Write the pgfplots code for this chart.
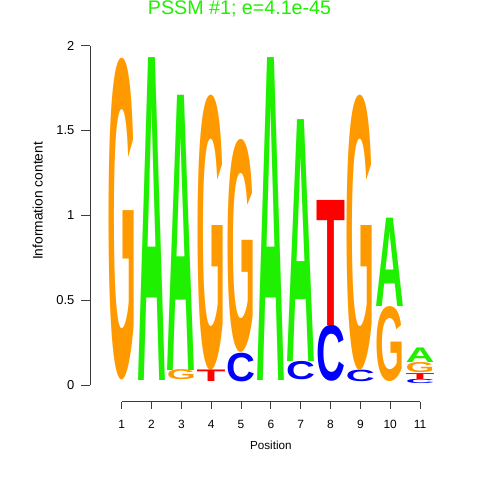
\documentclass[border=0pt]{standalone}
\usepackage{pgfplots}
\pgfplotsset{compat=1.18}
\usepackage{pgfplotstable}
\usepackage{graphicx}
\usepackage{fontspec}
\setmainfont{Liberation Sans}

\definecolor{colA}{RGB}{30,240,0}
\definecolor{colC}{RGB}{0,0,255}
\definecolor{colG}{RGB}{255,153,0}
\definecolor{colT}{RGB}{255,0,0}
\definecolor{axcol}{RGB}{60,60,60}

% stacks: x = position, y = bottom of letter, h = letter height (bits)
\pgfplotstableread{
x y h
2 0.029 1.903
3 0.088 1.622
6 0.029 1.903
7 0.137 1.4255
10 0.462 0.521
11 0.13 0.086
}\tblA
\pgfplotstableread{
x y h
5 0.02 0.169
7 0.029 0.108
8 0.02 0.33
9 0.02 0.068
11 0.01 0.025
}\tblC
\pgfplotstableread{
x y h
1 0.029 1.897
3 0.029 0.059
4 0.088 1.622
5 0.189 1.256
9 0.088 1.622
10 0.02 0.442
11 0.07 0.06
}\tblG
\pgfplotstableread{
x y h
4 0.02 0.068
8 0.35 0.737
11 0.035 0.035
}\tblT

\newcommand{\logoletter}[1]{\resizebox*{0.7234cm}{\hcm cm}{\bfseries #1}}

\pgfplotsset{
  letter/.style={draw=none, mark=none,
    visualization depends on={4.24*\thisrow{h} \as \hcm},
    nodes near coords={\logoletter{#1}},
    every node near coord/.append style={anchor=south, inner sep=0pt, outer sep=0pt}},
}

\begin{document}
\begin{tikzpicture}
\begin{axis}[
    x=0.7458cm, y=4.24cm,
    xmin=-0.06, xmax=11.6, ymin=-0.0985, ymax=2,
    axis lines*=left, axis line style={draw=none},
    clip=false,
    tick align=outside,
    tick style={axcol, line width=0.6pt},
    xtick={1,...,11}, ytick={0,0.5,1,1.5,2},
    xtick style={/pgfplots/major tick length=0.175cm},
    ytick style={/pgfplots/major tick length=0.225cm},
    /pgf/number format/assume math mode=true,
    xticklabel style={font=\fontsize{8.5}{10}\selectfont, yshift=-0.2cm},
    yticklabel style={font=\fontsize{9.2}{11}\selectfont, xshift=-0.12cm},
    title={PSSM \#1; e=4.1e-45},
    every axis title shift=0pt,
    title style={at={(axis description cs:0.4297,1.0867)}, anchor=base,
      font=\fontsize{14}{16}\selectfont, text=colA},
    xlabel={Position},
    ylabel={Information content},
    every axis x label/.style={at={(axis description cs:0.5197,-0.1237)}, anchor=center,
      font=\fontsize{8.3}{10}\selectfont},
    every axis y label/.style={at={(axis description cs:-0.1509,0.564)}, anchor=center,
      rotate=90, font=\fontsize{9.8}{12}\selectfont},
]
\addplot[letter=A, every node near coord/.append style={text=colA}] table[x=x, y=y] {\tblA};
\addplot[letter=C, every node near coord/.append style={text=colC}] table[x=x, y=y] {\tblC};
\addplot[letter=G, every node near coord/.append style={text=colG}] table[x=x, y=y] {\tblG};
\addplot[letter=T, every node near coord/.append style={text=colT}] table[x=x, y=y] {\tblT};

\draw[axcol, line width=0.6pt] (axis cs:1,-0.0985) -- (axis cs:11,-0.0985);
\draw[axcol, line width=0.6pt] (axis cs:-0.06,0) -- (axis cs:-0.06,2);
\coordinate (bbl) at (axis cs:-3.08,-0.5601);
\coordinate (btr) at (axis cs:13.012,2.27);
\end{axis}
\pgfresetboundingbox
\useasboundingbox (bbl) rectangle (btr);
\end{tikzpicture}
\end{document}
